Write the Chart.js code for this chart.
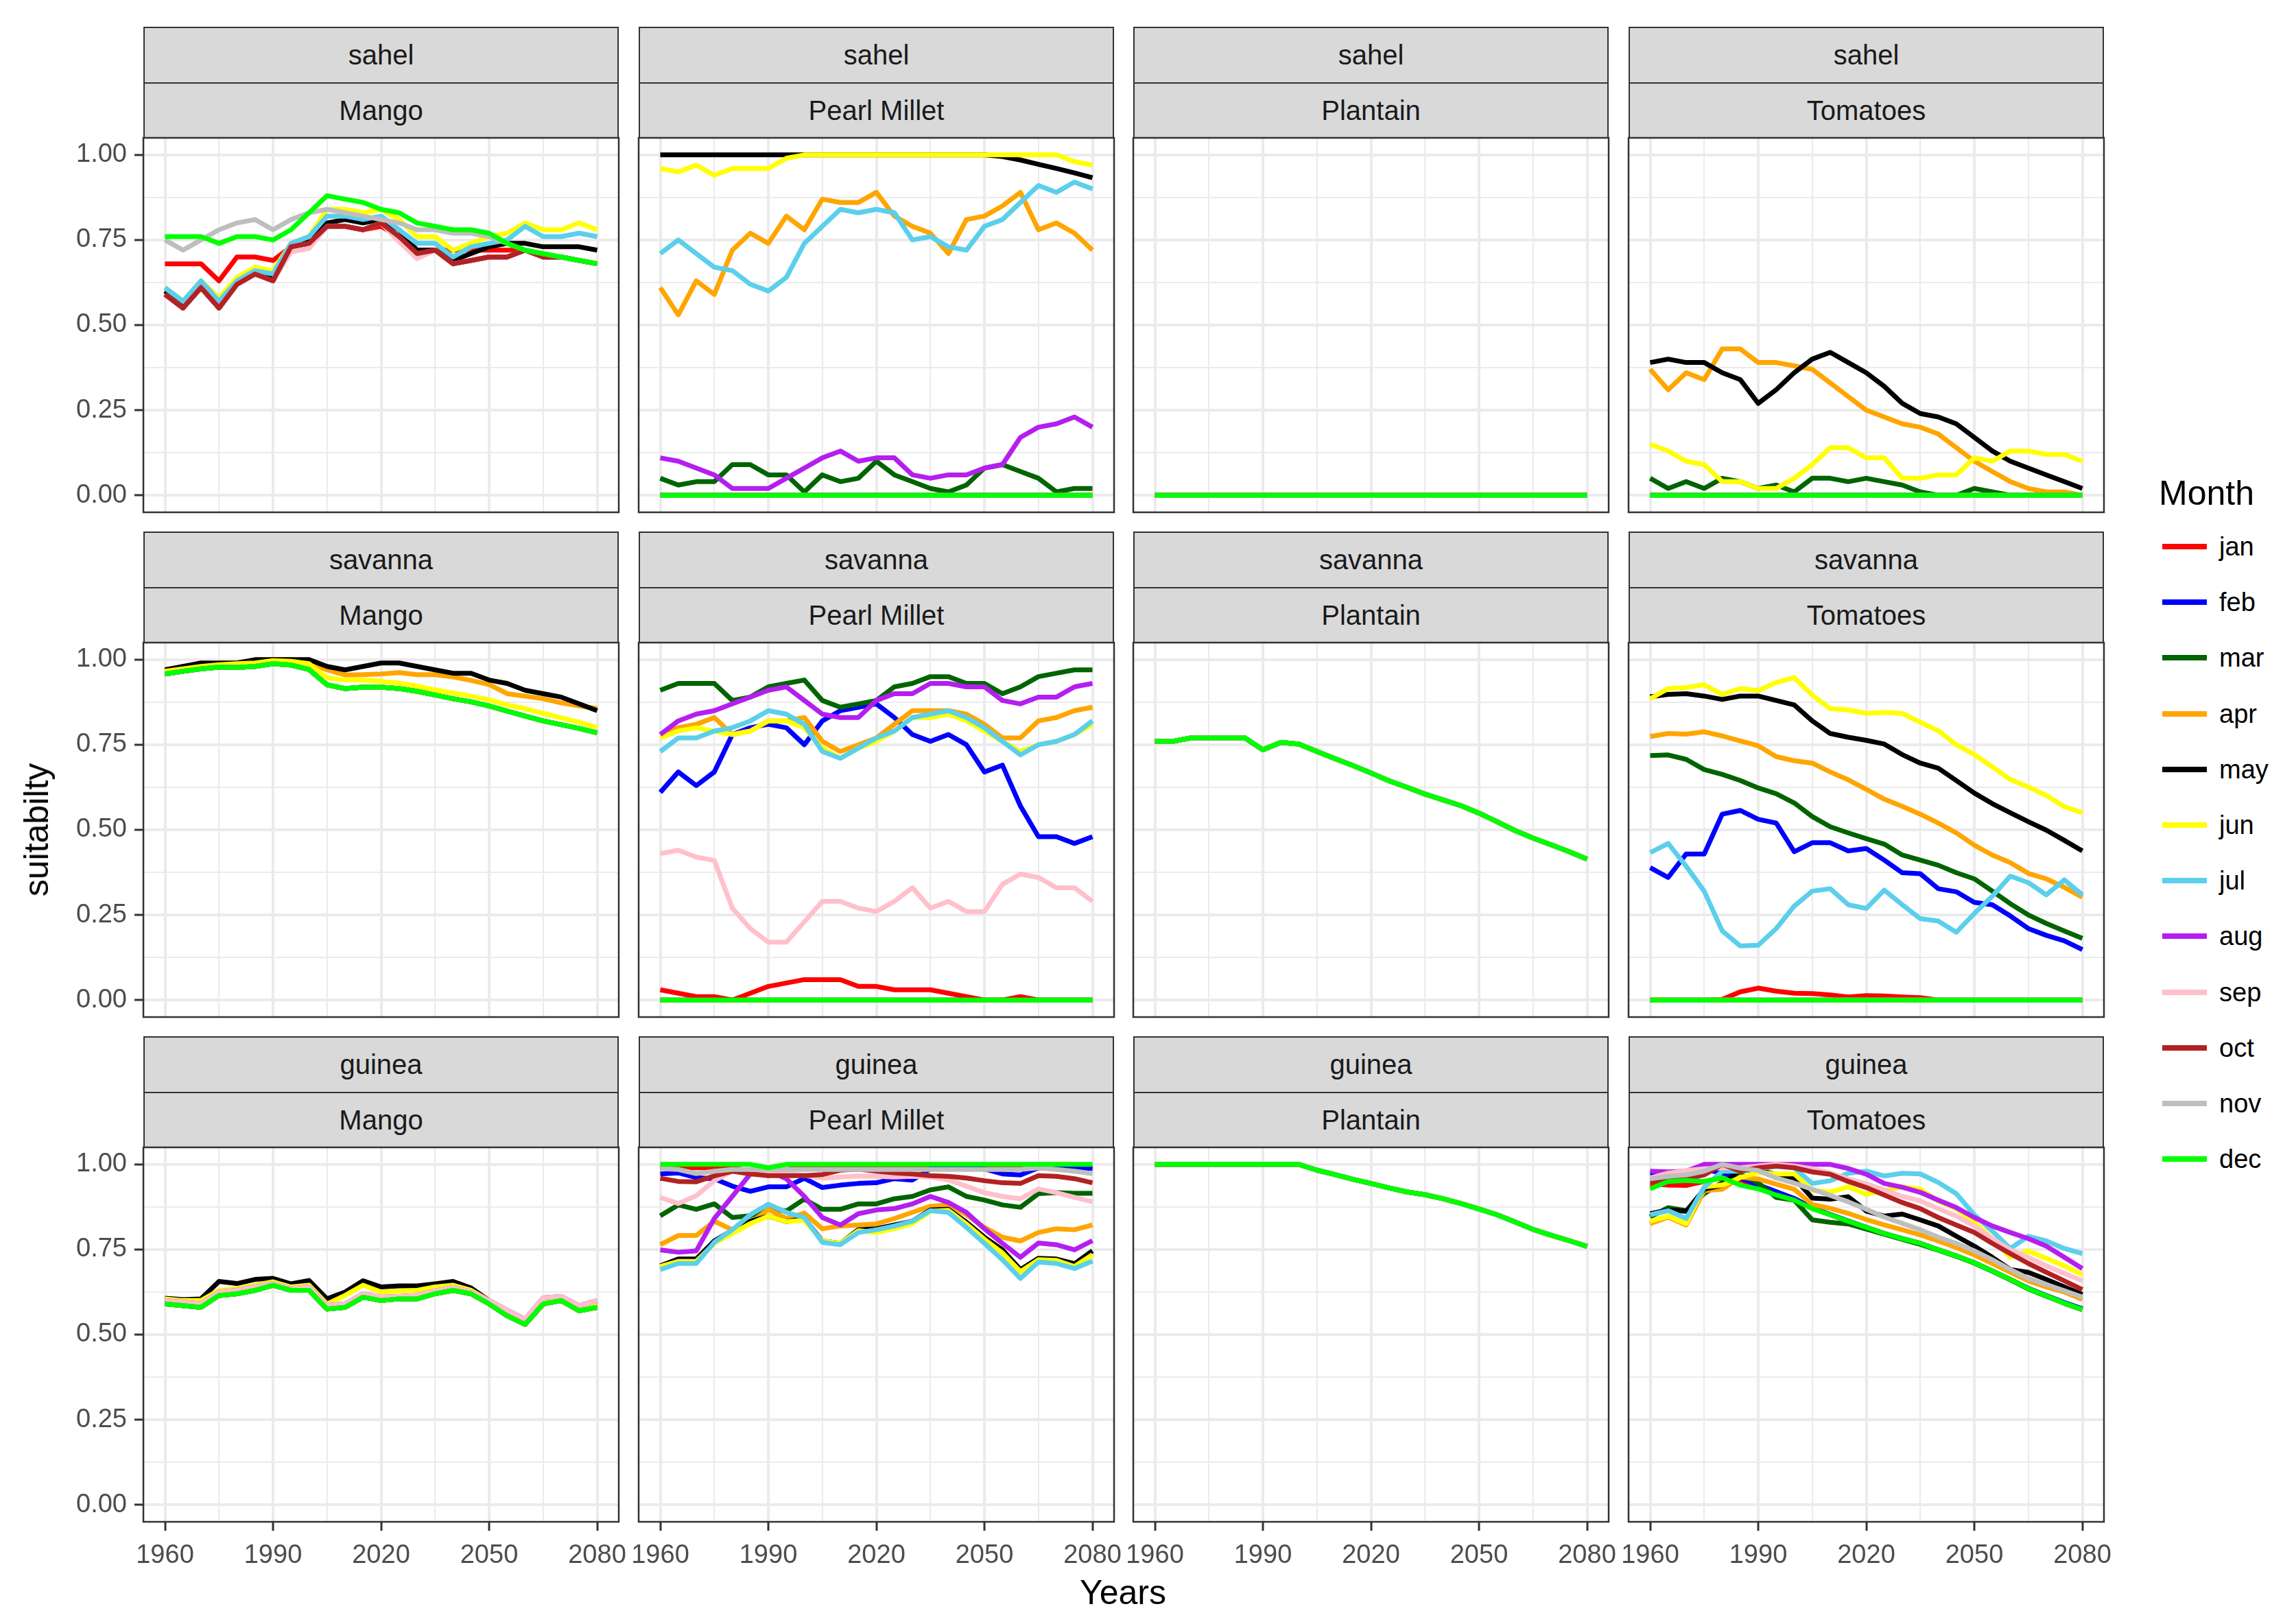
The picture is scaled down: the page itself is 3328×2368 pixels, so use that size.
<!DOCTYPE html>
<html>
<head>
<meta charset="utf-8">
<script src="https://cdn.jsdelivr.net/npm/chart.js@4.4.1/dist/chart.umd.min.js"></script>
<style>
  body { margin: 0; background: #fff; font-family: "Liberation Sans", Arial, sans-serif; }
  #fig { position: relative; width: 3328px; height: 2368px; overflow: hidden; background: #fff; }
  #fig canvas { position: absolute; }
  .strip { position: absolute; box-sizing: border-box; background: #d9d9d9; border: 2px solid #333;
           color: #1a1a1a; font-size: 40px; display: flex; align-items: center; justify-content: center; }
  .txt { position: absolute; white-space: nowrap; color: #000; }
</style>
</head>
<body>
<div id="fig"></div>
<script>
const years = [1960,1965,1970,1975,1980,1985,1990,1995,2000,2005,2010,2015,2020,2025,2030,2035,2040,2045,2050,2055,2060,2065,2070,2075,2080];
const months = ['jan','feb','mar','apr','may','jun','jul','aug','sep','oct','nov','dec'];
const monthColors = ['#ff0000','#0000ff','#006400','#ffa500','#000000','#ffff00','#5bcfeb','#b41ff0','#ffc0cb','#b22222','#bebebe','#00ff00'];
const regions = ['sahel','savanna','guinea'];
const crops = ['Mango','Pearl Millet','Plantain','Tomatoes'];
const xTicks = [1960,1975,1990,2005,2020,2035,2050,2065,2080];
const xMajor = [1960,1990,2020,2050,2080];
const yTicks = [0,0.125,0.25,0.375,0.5,0.625,0.75,0.875,1];
const yMajor = [0,0.25,0.5,0.75,1];

const none = [0,0,0,0,0, 0,0,0,0,0, 0,0,0,0,0, 0,0,0,0,0, 0,0,0,0,0];

// sahel
const sahelMango_dec = [0.76,0.76,0.76,0.74,0.76, 0.76,0.75,0.78,0.83,0.88, 0.87,0.86,0.84,0.83,0.80, 0.79,0.78,0.78,0.77,0.74, 0.72,0.71,0.70,0.69,0.68];
const sahelMango_nov = [0.75,0.72,0.75,0.78,0.80, 0.81,0.78,0.81,0.83,0.84, 0.83,0.82,0.81,0.80,0.78, 0.78,0.77,0.77,0.76,0.74, 0.72,0.71,0.70,0.69,0.68];
const sahelMango_jan = [0.68,0.68,0.68,0.63,0.70, 0.70,0.69,0.73,0.74,0.79, 0.79,0.78,0.79,0.76,0.72, 0.72,0.72,0.72,0.72,0.72, 0.72,0.70,0.70,0.69,0.68];
const sahelMango_jun = [0.61,0.57,0.63,0.58,0.64, 0.67,0.66,0.74,0.76,0.84, 0.84,0.83,0.84,0.81,0.76, 0.76,0.72,0.74,0.76,0.77, 0.80,0.78,0.78,0.80,0.78];
const sahelMango_jul = [0.61,0.57,0.63,0.57,0.63, 0.66,0.65,0.74,0.76,0.82, 0.82,0.81,0.82,0.78,0.74, 0.74,0.70,0.73,0.74,0.75, 0.79,0.76,0.76,0.77,0.76];
const sahelMango_may = [0.60,0.56,0.62,0.56,0.62, 0.65,0.64,0.73,0.75,0.80, 0.81,0.80,0.81,0.78,0.72, 0.72,0.69,0.71,0.73,0.74, 0.74,0.73,0.73,0.73,0.72];
const sahelMango_oct = [0.59,0.55,0.61,0.55,0.62, 0.65,0.63,0.73,0.74,0.79, 0.79,0.78,0.80,0.76,0.71, 0.72,0.68,0.69,0.70,0.70, 0.72,0.70,0.70,0.69,0.68];
const sahelMango_sep = [0.59,0.55,0.61,0.55,0.62, 0.65,0.63,0.715,0.725,0.79, 0.79,0.78,0.80,0.745,0.695, 0.72,0.68,0.69,0.70,0.70, 0.72,0.70,0.70,0.69,0.68];

const sahelMillet_may = [1,1,1,1,1, 1,1,1,1,1, 1,1,1,1,1, 1,1,1,1,0.995, 0.985,0.972,0.96,0.947,0.933];
const sahelMillet_jun = [0.96,0.95,0.97,0.94,0.96, 0.96,0.96,0.99,1,1, 1,1,1,1,1, 1,1,1,1,1, 1,1,1,0.98,0.97];
const sahelMillet_apr = [0.61,0.53,0.63,0.59,0.72, 0.77,0.74,0.82,0.78,0.87, 0.86,0.86,0.89,0.82,0.79, 0.77,0.71,0.81,0.82,0.85, 0.89,0.78,0.80,0.77,0.72];
const sahelMillet_jul = [0.71,0.75,0.71,0.67,0.66, 0.62,0.60,0.64,0.74,0.79, 0.84,0.83,0.84,0.83,0.75, 0.76,0.73,0.72,0.79,0.81, 0.86,0.91,0.89,0.92,0.90];
const sahelMillet_aug = [0.11,0.10,0.08,0.06,0.02, 0.02,0.02,0.05,0.08,0.11, 0.13,0.10,0.11,0.11,0.06, 0.05,0.06,0.06,0.08,0.09, 0.17,0.20,0.21,0.23,0.20];
const sahelMillet_mar = [0.05,0.03,0.04,0.04,0.09, 0.09,0.06,0.06,0.01,0.06, 0.04,0.05,0.10,0.06,0.04, 0.02,0.01,0.03,0.08,0.09, 0.07,0.05,0.01,0.02,0.02];

const sahelTomato_may = [0.39,0.40,0.39,0.39,0.36, 0.34,0.27,0.31,0.36,0.40, 0.42,0.39,0.36,0.32,0.27, 0.24,0.23,0.21,0.17,0.13, 0.10,0.08,0.06,0.04,0.02];
const sahelTomato_apr = [0.37,0.31,0.36,0.34,0.43, 0.43,0.39,0.39,0.38,0.37, 0.33,0.29,0.25,0.23,0.21, 0.20,0.18,0.14,0.10,0.07, 0.04,0.02,0.01,0.01,0.00];
const sahelTomato_jun = [0.15,0.13,0.10,0.09,0.04, 0.04,0.02,0.02,0.05,0.09, 0.14,0.14,0.11,0.11,0.05, 0.05,0.06,0.06,0.11,0.10, 0.13,0.13,0.12,0.12,0.10];
const sahelTomato_mar = [0.05,0.02,0.04,0.02,0.05, 0.04,0.02,0.03,0.01,0.05, 0.05,0.04,0.05,0.04,0.03, 0.01,0,0,0.02,0.01, 0,0,0,0,0];

// savanna
const savMango_may = [0.97,0.98,0.99,0.99,0.99, 1.0,1.0,1.0,1.0,0.98, 0.97,0.98,0.99,0.99,0.98, 0.97,0.96,0.96,0.94,0.93, 0.91,0.90,0.89,0.87,0.85];
const savMango_apr = [0.97,0.98,0.98,0.99,0.99, 0.99,1.0,1.0,0.99,0.97, 0.955,0.956,0.958,0.962,0.956, 0.956,0.949,0.939,0.927,0.90, 0.893,0.885,0.873,0.864,0.856];
const savMango_jun = [0.966,0.973,0.98,0.985,0.988, 0.99,0.997,0.995,0.988,0.947, 0.94,0.94,0.936,0.931,0.922, 0.911,0.902,0.893,0.882,0.867, 0.856,0.842,0.829,0.816,0.801];
const savMango_dec = [0.958,0.966,0.973,0.978,0.977, 0.98,0.988,0.984,0.971,0.926, 0.915,0.919,0.919,0.915,0.907, 0.896,0.885,0.876,0.864,0.849, 0.834,0.82,0.809,0.798,0.785];

const savMillet_mar = [0.91,0.93,0.93,0.93,0.88, 0.89,0.92,0.93,0.94,0.88, 0.86,0.87,0.88,0.92,0.93, 0.95,0.95,0.93,0.93,0.90, 0.92,0.95,0.96,0.97,0.97];
const savMillet_aug = [0.78,0.82,0.84,0.85,0.87, 0.89,0.91,0.92,0.88,0.84, 0.83,0.83,0.88,0.90,0.90, 0.93,0.93,0.92,0.92,0.88, 0.87,0.89,0.89,0.92,0.93];
const savMillet_apr = [0.78,0.80,0.81,0.83,0.78, 0.79,0.82,0.82,0.83,0.76, 0.73,0.75,0.77,0.81,0.85, 0.85,0.85,0.84,0.81,0.77, 0.77,0.82,0.83,0.85,0.86];
const savMillet_jun = [0.77,0.79,0.80,0.79,0.78, 0.79,0.82,0.82,0.80,0.74, 0.71,0.74,0.76,0.79,0.83, 0.83,0.84,0.82,0.79,0.76, 0.73,0.75,0.76,0.78,0.81];
const savMillet_jul = [0.73,0.77,0.77,0.79,0.80, 0.82,0.85,0.84,0.81,0.73, 0.71,0.74,0.77,0.79,0.83, 0.84,0.85,0.83,0.80,0.76, 0.72,0.75,0.76,0.78,0.82];
const savMillet_feb = [0.61,0.67,0.63,0.67,0.78, 0.80,0.81,0.80,0.75,0.82, 0.85,0.86,0.87,0.83,0.78, 0.76,0.78,0.75,0.67,0.69, 0.57,0.48,0.48,0.46,0.48];
const savMillet_sep = [0.43,0.44,0.42,0.41,0.27, 0.21,0.17,0.17,0.23,0.29, 0.29,0.27,0.26,0.29,0.33, 0.27,0.29,0.26,0.26,0.34, 0.37,0.36,0.33,0.33,0.29];
const savMillet_jan = [0.03,0.02,0.01,0.01,0.00, 0.02,0.04,0.05,0.06,0.06, 0.06,0.04,0.04,0.03,0.03, 0.03,0.02,0.01,0,0, 0.01,0,0,0,0];

const savPlantain_all = [0.76,0.76,0.77,0.77,0.77, 0.77,0.735,0.757,0.752,0.73, 0.709,0.689,0.667,0.644,0.625, 0.605,0.588,0.571,0.549,0.524, 0.498,0.476,0.456,0.436,0.414];

const savTomato_jun = [0.885,0.915,0.918,0.926,0.898, 0.915,0.909,0.933,0.947,0.896, 0.856,0.852,0.842,0.845,0.842, 0.816,0.791,0.75,0.721,0.685, 0.648,0.626,0.601,0.568,0.55];
const savTomato_may = [0.891,0.898,0.9,0.893,0.883, 0.893,0.893,0.88,0.867,0.82, 0.783,0.772,0.763,0.752,0.721, 0.696,0.681,0.645,0.608,0.577, 0.55,0.524,0.499,0.469,0.438];
const savTomato_apr = [0.774,0.783,0.781,0.788,0.776, 0.761,0.747,0.715,0.703,0.696, 0.67,0.647,0.619,0.59,0.569, 0.546,0.52,0.491,0.455,0.426, 0.404,0.372,0.356,0.331,0.302];
const savTomato_mar = [0.718,0.72,0.707,0.677,0.663, 0.645,0.623,0.606,0.579,0.539, 0.509,0.491,0.474,0.458,0.426, 0.411,0.396,0.374,0.356,0.32, 0.283,0.25,0.225,0.203,0.181];
const savTomato_feb = [0.389,0.36,0.429,0.429,0.546, 0.557,0.531,0.52,0.436,0.462, 0.462,0.438,0.445,0.411,0.374, 0.371,0.327,0.318,0.287,0.28, 0.247,0.21,0.19,0.174,0.148];
const savTomato_jul = [0.433,0.46,0.393,0.32,0.203, 0.159,0.161,0.21,0.276,0.32, 0.327,0.28,0.269,0.323,0.28, 0.239,0.232,0.199,0.254,0.305, 0.364,0.345,0.309,0.353,0.309];
const savTomato_jan = [0,0,0,0,0.002, 0.024,0.035,0.026,0.02,0.019, 0.015,0.009,0.013,0.012,0.009, 0.007,0,0,0,0, 0,0,0,0,0];

// guinea
const guiMango_dec = [0.59,0.585,0.58,0.615,0.62, 0.63,0.645,0.63,0.63,0.575, 0.58,0.61,0.60,0.605,0.605, 0.62,0.63,0.62,0.59,0.555, 0.53,0.59,0.60,0.57,0.58];
const guiMango_may = [0.607,0.603,0.605,0.656,0.65, 0.662,0.665,0.649,0.659,0.605, 0.625,0.658,0.64,0.643,0.643, 0.649,0.656,0.637,0.60,0.57, 0.545,0.60,0.605,0.58,0.59];
const guiMango_jun = [0.605,0.60,0.60,0.63,0.635, 0.645,0.655,0.64,0.645,0.59, 0.615,0.645,0.625,0.628,0.63, 0.64,0.645,0.63,0.60,0.57, 0.545,0.60,0.605,0.58,0.59];
const guiMango_jul = [0.60,0.595,0.59,0.625,0.63, 0.64,0.65,0.635,0.64,0.585, 0.59,0.62,0.61,0.612,0.615, 0.628,0.638,0.625,0.60,0.572, 0.545,0.608,0.612,0.585,0.60];

const guiMillet_dec = [1,1,1,1,1, 1,0.99,1,1,1, 1,1,1,1,1, 1,1,1,1,1, 1,1,1,1,1];
const guiMillet_nov = [0.988,0.985,0.973,0.98,0.985, 0.985,0.985,0.985,0.985,0.985, 0.985,0.985,0.985,0.985,0.985, 0.985,0.985,0.985,0.985,0.985, 0.985,0.99,0.985,0.98,0.973];
const guiMillet_jan = [0.99,0.99,0.99,0.99,0.99, 0.98,0.967,0.985,0.99,0.99, 0.99,0.99,0.99,0.99,0.99, 0.995,0.99,0.99,0.99,0.99, 0.99,0.99,0.99,0.99,0.99];
const guiMillet_feb = [0.972,0.975,0.961,0.958,0.936, 0.921,0.934,0.934,0.959,0.932, 0.939,0.944,0.946,0.958,0.954, 0.987,0.988,0.988,0.987,0.972, 0.969,0.99,0.99,0.99,0.988];
const guiMillet_oct = [0.959,0.95,0.949,0.966,0.98, 0.972,0.967,0.967,0.967,0.97, 0.983,0.986,0.98,0.975,0.972, 0.967,0.965,0.96,0.952,0.946, 0.944,0.967,0.965,0.958,0.946];
const guiMillet_sep = [0.903,0.885,0.908,0.952,0.98, 0.979,0.974,0.974,0.968,0.959, 0.963,0.966,0.965,0.963,0.965, 0.963,0.954,0.936,0.917,0.906, 0.899,0.928,0.917,0.903,0.89];
const guiMillet_mar = [0.849,0.881,0.868,0.884,0.844, 0.849,0.868,0.863,0.898,0.868, 0.868,0.884,0.884,0.899,0.906, 0.925,0.934,0.906,0.895,0.881, 0.874,0.914,0.917,0.915,0.915];
const guiMillet_apr = [0.764,0.791,0.791,0.833,0.808, 0.827,0.868,0.841,0.857,0.811, 0.819,0.822,0.825,0.841,0.859, 0.877,0.881,0.852,0.815,0.786, 0.775,0.80,0.811,0.808,0.822];
const guiMillet_aug = [0.749,0.742,0.746,0.841,0.906, 0.972,0.981,0.958,0.906,0.844, 0.822,0.855,0.866,0.87,0.884, 0.906,0.888,0.859,0.811,0.768, 0.727,0.769,0.764,0.749,0.776];
const guiMillet_may = [0.702,0.722,0.722,0.775,0.806, 0.833,0.848,0.832,0.841,0.775, 0.768,0.808,0.811,0.822,0.833, 0.866,0.868,0.83,0.786,0.749, 0.691,0.724,0.722,0.708,0.746];
const guiMillet_jun = [0.70,0.715,0.715,0.768,0.797, 0.826,0.848,0.832,0.836,0.775, 0.768,0.805,0.80,0.811,0.826, 0.862,0.865,0.825,0.78,0.74, 0.685,0.72,0.718,0.70,0.735];
const guiMillet_jul = [0.691,0.709,0.709,0.771,0.808, 0.852,0.883,0.859,0.844,0.771, 0.764,0.80,0.808,0.819,0.833, 0.864,0.859,0.815,0.768,0.72, 0.665,0.713,0.709,0.694,0.716];

const guiPlantain_all = [1,1,1,1,1, 1,1,1,1,0.983, 0.97,0.956,0.944,0.931,0.919, 0.911,0.899,0.885,0.869,0.852, 0.831,0.809,0.792,0.776,0.759];

const guiTomato_aug = [0.98,0.978,0.98,1,1, 1,1,1,1,1, 1,0.988,0.971,0.944,0.933, 0.918,0.895,0.873,0.844,0.819, 0.80,0.782,0.76,0.727,0.694];
const guiTomato_jul = [0.852,0.864,0.841,0.933,0.98, 0.98,0.987,0.994,0.99,0.944, 0.952,0.974,0.98,0.966,0.974, 0.972,0.947,0.914,0.852,0.804, 0.753,0.789,0.775,0.753,0.738];
const guiTomato_oct = [0.95,0.953,0.957,0.969,1.0, 0.98,0.99,0.995,0.99,0.978, 0.971,0.95,0.932,0.91,0.888, 0.87,0.844,0.822,0.80,0.768, 0.738,0.709,0.683,0.658,0.632];
const guiTomato_sep = [0.96,0.974,0.982,0.987,0.99, 0.99,0.995,1.0,0.995,0.987, 0.975,0.957,0.943,0.925,0.906, 0.893,0.87,0.848,0.819,0.782, 0.749,0.727,0.702,0.68,0.658];
const guiTomato_jun = [0.833,0.848,0.826,0.934,0.939, 0.961,0.976,0.972,0.972,0.923, 0.919,0.934,0.912,0.923,0.934, 0.927,0.892,0.87,0.83,0.782, 0.727,0.746,0.724,0.702,0.676];
const guiTomato_may = [0.855,0.866,0.862,0.927,0.939, 0.985,0.982,0.971,0.96,0.901, 0.898,0.905,0.863,0.848,0.854, 0.837,0.819,0.789,0.76,0.727, 0.691,0.683,0.662,0.64,0.618];
const guiTomato_nov = [0.958,0.965,0.969,0.98,1.0, 0.989,0.982,0.96,0.945,0.927, 0.909,0.89,0.868,0.845,0.827, 0.808,0.786,0.768,0.746,0.72, 0.691,0.665,0.647,0.629,0.61];
const guiTomato_apr = [0.826,0.845,0.822,0.923,0.927, 0.963,0.957,0.942,0.927,0.882, 0.871,0.856,0.838,0.822,0.808, 0.793,0.775,0.756,0.734,0.709, 0.683,0.658,0.64,0.625,0.603];
const guiTomato_dec = [0.928,0.95,0.953,0.95,0.961, 0.939,0.928,0.91,0.895,0.87, 0.852,0.833,0.815,0.797,0.782, 0.768,0.749,0.731,0.711,0.687, 0.662,0.635,0.614,0.592,0.574];
const guiTomato_mar = [0.846,0.873,0.864,0.914,0.947, 0.971,0.946,0.903,0.895,0.837, 0.83,0.825,0.81,0.795,0.78, 0.765,0.748,0.73,0.71,0.686, 0.661,0.634,0.613,0.592,0.573];
const guiTomato_feb = [0.972,0.975,0.98,0.985,0.975, 0.96,0.94,0.92,0.9,0.872, 0.853,0.834,0.815,0.797,0.782, 0.768,0.749,0.731,0.711,0.687, 0.662,0.636,0.615,0.594,0.576];
const guiTomato_jan = [0.943,0.939,0.938,0.95,0.96, 0.955,0.935,0.915,0.897,0.871, 0.852,0.833,0.815,0.797,0.782, 0.768,0.749,0.731,0.711,0.687, 0.662,0.635,0.614,0.592,0.574];

// one row of series per panel, in month order jan..dec
const panels = [
  [
    [sahelMango_jan, sahelMango_oct, sahelMango_oct, sahelMango_oct, sahelMango_may, sahelMango_jun, sahelMango_jul, sahelMango_oct, sahelMango_sep, sahelMango_oct, sahelMango_nov, sahelMango_dec],
    [none, none, sahelMillet_mar, sahelMillet_apr, sahelMillet_may, sahelMillet_jun, sahelMillet_jul, sahelMillet_aug, none, none, none, none],
    [none, none, none, none, none, none, none, none, none, none, none, none],
    [none, none, sahelTomato_mar, sahelTomato_apr, sahelTomato_may, sahelTomato_jun, none, none, none, none, none, none]
  ],
  [
    [savMango_dec, savMango_dec, savMango_dec, savMango_apr, savMango_may, savMango_jun, savMango_dec, savMango_dec, savMango_dec, savMango_dec, savMango_dec, savMango_dec],
    [savMillet_jan, savMillet_feb, savMillet_mar, savMillet_apr, none, savMillet_jun, savMillet_jul, savMillet_aug, savMillet_sep, none, none, none],
    [savPlantain_all, savPlantain_all, savPlantain_all, savPlantain_all, savPlantain_all, savPlantain_all, savPlantain_all, savPlantain_all, savPlantain_all, savPlantain_all, savPlantain_all, savPlantain_all],
    [savTomato_jan, savTomato_feb, savTomato_mar, savTomato_apr, savTomato_may, savTomato_jun, savTomato_jul, none, none, none, none, none]
  ],
  [
    [guiMango_dec, guiMango_dec, guiMango_dec, guiMango_dec, guiMango_may, guiMango_jun, guiMango_jul, guiMango_jul, guiMango_jul, guiMango_dec, guiMango_dec, guiMango_dec],
    [guiMillet_jan, guiMillet_feb, guiMillet_mar, guiMillet_apr, guiMillet_may, guiMillet_jun, guiMillet_jul, guiMillet_aug, guiMillet_sep, guiMillet_oct, guiMillet_nov, guiMillet_dec],
    [guiPlantain_all, guiPlantain_all, guiPlantain_all, guiPlantain_all, guiPlantain_all, guiPlantain_all, guiPlantain_all, guiPlantain_all, guiPlantain_all, guiPlantain_all, guiPlantain_all, guiPlantain_all],
    [guiTomato_jan, guiTomato_feb, guiTomato_mar, guiTomato_apr, guiTomato_may, guiTomato_jun, guiTomato_jul, guiTomato_aug, guiTomato_sep, guiTomato_oct, guiTomato_nov, guiTomato_dec]
  ]
];

const FONT = '"Liberation Sans", Arial, sans-serif';
const fig = document.getElementById('fig');
const PW = 693, PH = 546, STRIP = 81;
const colLeft = c => Math.round(209 + 721.5 * c);
const rowTop = r => 39 + 736 * r;

const panelBorder = {
  id: 'panelBorder',
  afterDraw(chart) {
    const { ctx, chartArea: a } = chart;
    ctx.save();
    ctx.strokeStyle = '#333333';
    ctx.lineWidth = 2.5;
    ctx.strokeRect(a.left, a.top, a.right - a.left, a.bottom - a.top);
    ctx.restore();
  }
};

function addStrip(text, left, top, h) {
  const d = document.createElement('div');
  d.className = 'strip';
  d.style.left = left + 'px';
  d.style.top = top + 'px';
  d.style.width = PW + 'px';
  d.style.height = h + 'px';
  d.textContent = text;
  fig.appendChild(d);
}

function addText(text, x, y, size, extra) {
  const d = document.createElement('div');
  d.className = 'txt';
  d.style.left = x + 'px';
  d.style.top = y + 'px';
  d.style.fontSize = size + 'px';
  d.style.transform = extra || 'translate(-50%,-50%)';
  d.textContent = text;
  fig.appendChild(d);
  return d;
}

regions.forEach((region, r) => {
  crops.forEach((crop, c) => {
    const left = colLeft(c), top = rowTop(r);
    const plotTop = top + 2 * STRIP;
    addStrip(region, left, top, STRIP + 2);
    addStrip(crop, left, top + STRIP, STRIP + 1);

    const yW = c === 0 ? 200 : 0;
    const xH = r === 2 ? 100 : 0;
    const padL = c === 0 ? 0 : 40, padR = 40, padT = 40, padB = r === 2 ? 0 : 40;
    const canvas = document.createElement('canvas');
    canvas.width = PW + yW + padL + padR;
    canvas.height = PH + padT + padB + xH;
    canvas.style.left = (left - yW - padL) + 'px';
    canvas.style.top = (plotTop - padT) + 'px';
    fig.appendChild(canvas);

    const series = panels[r][c];
    const datasets = months.map((m, i) => ({
      label: m,
      data: years.map((yr, j) => ({ x: yr, y: series[i][j] })),
      borderColor: monthColors[i],
      backgroundColor: monthColors[i],
      order: 11 - i
    }));

    new Chart(canvas, {
      type: 'line',
      data: { datasets },
      options: {
        responsive: false,
        animation: false,
        devicePixelRatio: 1,
        layout: { padding: { left: padL, right: padR, top: padT, bottom: padB } },
        plugins: { legend: { display: false }, tooltip: { enabled: false } },
        elements: {
          point: { radius: 0 },
          line: { borderWidth: 7, tension: 0, borderJoinStyle: 'round', borderCapStyle: 'butt' }
        },
        scales: {
          x: {
            type: 'linear', min: 1954, max: 2086,
            afterBuildTicks: s => { s.ticks = xTicks.map(v => ({ value: v })); },
            afterFit: s => { s.height = xH; },
            ticks: {
              display: r === 2, autoSkip: false, maxRotation: 0, padding: 14,
              color: '#4d4d4d', font: { family: FONT, size: 38 },
              callback: v => xMajor.includes(v) ? String(v) : ''
            },
            grid: {
              color: '#ebebeb',
              lineWidth: ctx => xMajor.includes(ctx.tick.value) ? 4 : 2,
              drawTicks: r === 2, tickLength: 13, tickWidth: 3,
              tickColor: ctx => xMajor.includes(ctx.tick.value) ? '#333333' : 'rgba(0,0,0,0)'
            },
            border: { display: false }
          },
          y: {
            type: 'linear', min: -0.05, max: 1.05,
            afterBuildTicks: s => { s.ticks = yTicks.map(v => ({ value: v })); },
            afterFit: s => { s.width = yW; },
            ticks: {
              display: c === 0, autoSkip: false, padding: 11,
              color: '#4d4d4d', font: { family: FONT, size: 38 },
              callback: v => yMajor.includes(v) ? v.toFixed(2) : ''
            },
            grid: {
              color: '#ebebeb',
              lineWidth: ctx => yMajor.includes(ctx.tick.value) ? 4 : 2,
              drawTicks: c === 0, tickLength: 13, tickWidth: 3,
              tickColor: ctx => yMajor.includes(ctx.tick.value) ? '#333333' : 'rgba(0,0,0,0)'
            },
            border: { display: false }
          }
        }
      },
      plugins: [panelBorder]
    });
  });
});

// axis titles
addText('Years', 1637, 2322, 50);
addText('suitabilty', 53, 1210, 50, 'translate(-50%,-50%) rotate(-90deg)');

// legend
addText('Month', 3147, 719, 50, 'translate(0,-50%)');
months.forEach((m, i) => {
  const y = 797 + 81.2 * i;
  const key = document.createElement('div');
  key.style.cssText = `position:absolute;left:3152px;top:${y - 4}px;width:65px;height:8px;background:${monthColors[i]};`;
  fig.appendChild(key);
  addText(m, 3235, y, 38, 'translate(0,-50%)');
});
</script>
</body>
</html>
